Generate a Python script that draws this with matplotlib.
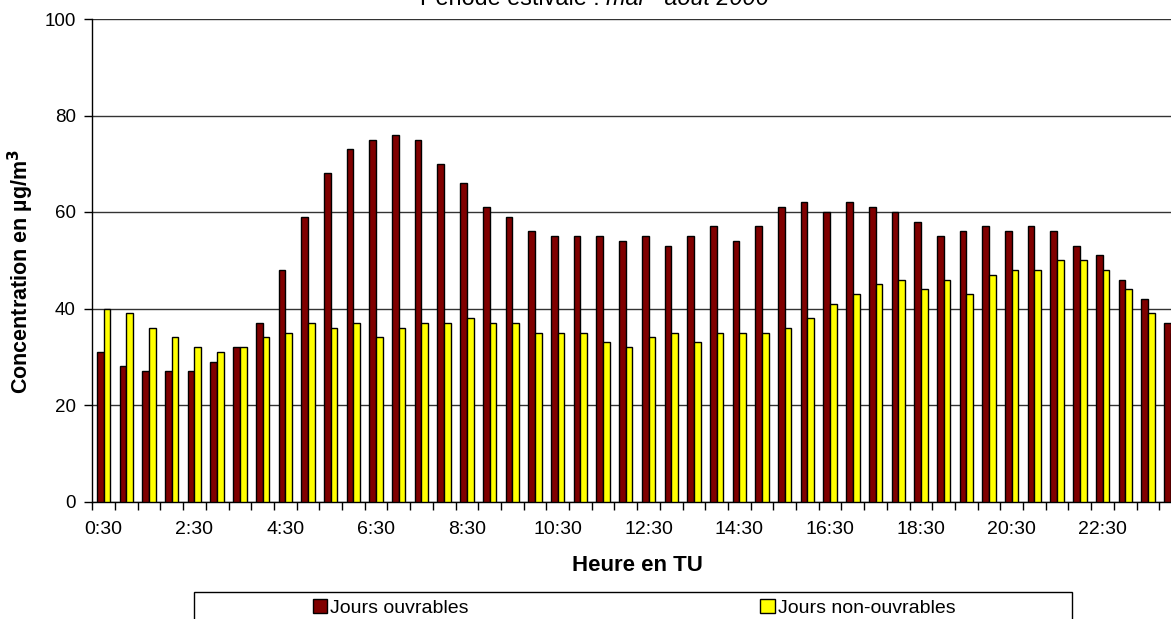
import matplotlib.pyplot as plt
from matplotlib.patches import Rectangle
import numpy as np

plt.rcParams['font.family'] = ['Liberation Sans', 'DejaVu Sans']

heures = ['0:30', '1:00', '1:30', '2:00', '2:30', '3:00', '3:30', '4:00',
          '4:30', '5:00', '5:30', '6:00', '6:30', '7:00', '7:30', '8:00',
          '8:30', '9:00', '9:30', '10:00', '10:30', '11:00', '11:30', '12:00',
          '12:30', '13:00', '13:30', '14:00', '14:30', '15:00', '15:30', '16:00',
          '16:30', '17:00', '17:30', '18:00', '18:30', '19:00', '19:30', '20:00',
          '20:30', '21:00', '21:30', '22:00', '22:30', '23:00', '23:30', '24:00']
ouvrables = [31, 28, 27, 27, 27, 29, 32, 37, 48, 59, 68, 73, 75, 76, 75, 70,
             66, 61, 59, 56, 55, 55, 55, 54, 55, 53, 55, 57, 54, 57, 61, 62,
             60, 62, 61, 60, 58, 55, 56, 57, 56, 57, 56, 53, 51, 46, 42, 37]
non_ouvrables = [40, 39, 36, 34, 32, 31, 32, 34, 35, 37, 36, 37, 34, 36, 37, 37,
                 38, 37, 37, 35, 35, 35, 33, 32, 34, 35, 33, 35, 35, 35, 36, 38,
                 41, 43, 45, 46, 44, 46, 43, 47, 48, 48, 50, 50, 48, 44, 39, 35]

W, H = 1171, 619
fig = plt.figure(figsize=(W / 100, H / 100), dpi=100)
# la zone de tracé dépasse à droite (image recadrée)
ax = fig.add_axes([92.3 / W, 1 - 501.5 / H, 1089.7 / W, 482.5 / H])

x = np.arange(len(heures))
larg = 0.295
ax.bar(x - larg / 2, ouvrables, larg, color='#800000', edgecolor='black',
       linewidth=1, label='Jours ouvrables', zorder=3)
ax.bar(x + larg / 2, non_ouvrables, larg, color='#FFFF00', edgecolor='black',
       linewidth=1, label='Jours non-ouvrables', zorder=3)

ax.set_xlim(-0.5, len(heures) - 0.5)
ax.set_ylim(0, 100)
ax.set_yticks([0, 20, 40, 60, 80, 100])
ax.tick_params(axis='y', labelsize=13.5, length=6, width=1, pad=6)
ax.yaxis.grid(True, color='#333333', linewidth=1, zorder=0)

ax.set_xticks(np.arange(len(heures) + 1) - 0.5)
ax.set_xticklabels([])
ax.tick_params(axis='x', which='major', length=6, width=1)
ax.set_xticks(x[::4], minor=True)
ax.set_xticklabels(heures[::4], minor=True)
ax.tick_params(axis='x', which='minor', length=0, labelsize=14, pad=14)

for s in ['top', 'right']:
    ax.spines[s].set_visible(False)
ax.spines['left'].set_linewidth(1)
ax.spines['bottom'].set_linewidth(1)

ax.set_xlabel('Heure en TU', fontsize=16, fontweight='bold', labelpad=12)
ax.set_ylabel('Concentration en µg/m$^{\\mathbf{3}}$', fontsize=15.5,
              fontweight='bold')
ax.yaxis.set_label_coords((36 - 92.3) / 1089.7, (501.5 - 272) / 482.5)

t1 = fig.text(420 / W, 1 - 5 / H, 'Période estivale : ', fontsize=16.8,
              va='baseline', ha='left')
ax.annotate('mai - août 2006', xy=(1, 0), xycoords=t1, va='bottom', ha='left',
            fontsize=16.8, style='italic')

fig.patches.append(Rectangle((194.3 / W, -0.05), 878 / W, 0.05 + 1 - 592.3 / H,
                             transform=fig.transFigure, facecolor='none',
                             edgecolor='black', linewidth=1))
fig.legend(loc='upper center', bbox_to_anchor=(634 / W, 1 - 599 / H), ncol=2,
           frameon=False, fontsize=14, handlelength=0.75, handleheight=0.75,
           handletextpad=0.15, columnspacing=15, borderpad=0, borderaxespad=0)

fig.savefig('out.png', dpi=100)
